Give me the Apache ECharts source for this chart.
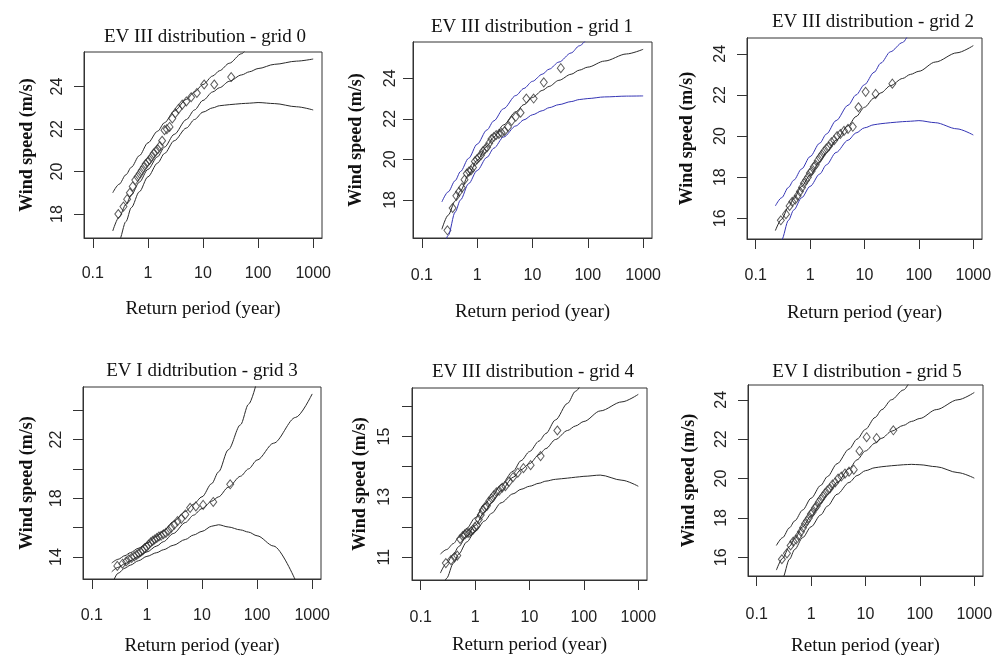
<!DOCTYPE html>
<html>
<head>
<meta charset="utf-8">
<script src="https://cdn.jsdelivr.net/npm/echarts@6/dist/echarts.min.js"></script>
<style>
  html, body { margin: 0; padding: 0; background: #fff; }
  #chart { width: 1002px; height: 657px; }
</style>
</head>
<body>
<div id="chart"></div>
<script>
// return period (year) of the 32 ranked annual maxima, same for every grid
var returnPeriods = [0.29, 0.36, 0.42, 0.47, 0.53, 0.59, 0.65, 0.71, 0.77, 0.84, 0.91, 0.99,
  1.07, 1.17, 1.27, 1.38, 1.51, 1.65, 1.81, 2.0, 2.21, 2.47, 2.77, 3.14, 3.6, 4.2, 4.98,
  6.09, 7.74, 10.49, 16.0, 32.5];
// return periods where the fitted curve and its bounds were read
var curveT = [0.23, 0.3, 0.4, 0.5, 0.7, 1, 1.5, 2, 3, 5, 7, 10, 15, 20, 30, 50, 70, 100, 200, 500, 1000];
var xTickValues = [0.1, 1, 10, 100, 1000];

// grid 0
var grid0Obs = [18.0, 18.35, 18.7, 19.0, 19.3, 19.6, 19.75, 19.9, 20.05, 20.2, 20.35, 20.45,
  20.55, 20.7, 20.85, 20.95, 21.05, 21.2, 21.45, 21.95, 22.0, 22.1, 22.5, 22.75, 22.95, 23.15,
  23.3, 23.5, 23.7, 24.1, 24.1, 24.45];
var grid0Fit = [17.2, 17.85, 18.45, 18.9, 19.5, 20.1, 20.7, 21.15, 21.75, 22.45, 22.9, 23.35,
  23.75, 23.95, 24.25, 24.55, 24.7, 24.85, 25.05, 25.2, 25.3];
var grid0Upper = [19.0, 19.4, 19.85, 20.2, 20.75, 21.35, 21.9, 22.3, 22.85, 23.4, 23.75, 24.1,
  24.5, 24.75, 25.1, 25.55, 25.9, 26.3, null, null, null];
var grid0Lower = [15.9, 16.75, 17.65, 18.3, 19.05, 19.75, 20.4, 20.85, 21.45, 22.05, 22.45, 22.8,
  23.0, 23.1, 23.15, 23.2, 23.22, 23.25, 23.2, 23.05, 22.9];

// grid 1
var grid1Obs = [16.5, 17.6, 18.2, 18.4, 18.6, 19.0, 19.3, 19.4, 19.45, 19.6, 19.9, 20.0,
  20.1, 20.2, 20.4, 20.5, 20.6, 20.8, 21.0, 21.1, 21.2, 21.25, 21.3, 21.4, 21.6, 21.9,
  22.1, 22.3, 23.0, 23.0, 23.8, 24.5];
var grid1Fit = [16.55, 17.25, 17.95, 18.45, 19.25, 19.95, 20.65, 21.1, 21.7, 22.35, 22.7, 23.05,
  23.4, 23.6, 23.9, 24.2, 24.4, 24.55, 24.85, 25.2, 25.43];
var grid1Upper = [17.9, 18.4, 18.95, 19.4, 20.05, 20.75, 21.45, 21.9, 22.5, 23.15, 23.5, 23.85,
  24.2, 24.45, 24.8, 25.25, 25.6, 26.0, null, null, null];
var grid1Lower = [15.2, 16.25, 17.4, 18.0, 18.8, 19.45, 20.1, 20.55, 21.1, 21.65, 21.95, 22.2,
  22.4, 22.55, 22.7, 22.85, 22.95, 23.0, 23.08, 23.12, 23.13];

// grid 2
var grid2Obs = [15.9, 16.2, 16.6, 16.8, 16.9, 17.1, 17.3, 17.5, 17.7, 17.85, 18.0, 18.2,
  18.3, 18.5, 18.6, 18.8, 18.95, 19.1, 19.25, 19.4, 19.5, 19.7, 19.8, 20.0, 20.1, 20.25,
  20.35, 20.45, 21.4, 22.15, 22.05, 22.55];
var grid2Fit = [15.4, 15.95, 16.55, 16.95, 17.55, 18.1, 18.75, 19.2, 19.8, 20.5, 20.95, 21.4,
  21.85, 22.1, 22.45, 22.8, 23.0, 23.15, 23.6, 24.05, 24.4];
var grid2Upper = [16.6, 17.0, 17.5, 17.85, 18.4, 19.0, 19.65, 20.1, 20.75, 21.5, 22.0, 22.5,
  23.1, 23.55, 24.1, 24.55, 25.0, 25.6, null, null, null];
var grid2Lower = [13.9, 14.95, 15.9, 16.4, 17.0, 17.55, 18.15, 18.6, 19.2, 19.8, 20.15, 20.4,
  20.55, 20.6, 20.65, 20.7, 20.72, 20.75, 20.65, 20.35, 20.05];

// grid 3
var grid3Obs = [13.4, 13.55, 13.7, 13.85, 13.95, 14.05, 14.15, 14.25, 14.35, 14.45, 14.6, 14.7,
  14.85, 15.0, 15.1, 15.2, 15.3, 15.4, 15.45, 15.55, 15.65, 15.8, 16.0, 16.2, 16.45, 16.6,
  16.9, 17.35, 17.45, 17.55, 17.75, 18.95];
var grid3Fit = [13.0, 13.3, 13.55, 13.75, 14.05, 14.35, 14.75, 15.05, 15.6, 16.35, 16.85, 17.3,
  17.8, 18.1, 18.75, 19.5, 20.0, 20.6, 21.75, 23.5, 25.1];
var grid3Upper = [13.6, 13.85, 14.1, 14.3, 14.6, 14.95, 15.4, 15.8, 16.4, 17.1, 17.6, 18.1,
  19.0, 19.8, 21.3, 23.0, 24.4, 26.0, null, null, null];
var grid3Lower = [12.1, 12.9, 13.25, 13.45, 13.75, 14.05, 14.3, 14.5, 14.8, 15.2, 15.5, 15.75,
  16.1, 16.2, 16.05, 15.85, 15.7, 15.45, 14.75, 12.4, null];

// grid 4
var grid4Obs = [10.8, 10.9, 11.0, 11.05, 11.6, 11.7, 11.75, 11.8, 11.8, 11.85, 11.9, 12.0,
  12.05, 12.25, 12.4, 12.55, 12.65, 12.7, 12.85, 12.95, 13.05, 13.15, 13.2, 13.3, 13.35, 13.5,
  13.65, 13.8, 13.95, 14.05, 14.35, 15.2];
var grid4Fit = [10.47, 10.8, 11.1, 11.35, 11.7, 12.05, 12.5, 12.8, 13.2, 13.65, 13.9, 14.1,
  14.4, 14.6, 14.9, 15.2, 15.35, 15.5, 15.85, 16.15, 16.4];
var grid4Upper = [11.1, 11.25, 11.45, 11.65, 11.95, 12.3, 12.75, 13.0, 13.4, 13.85, 14.2, 14.5,
  14.85, 15.1, 15.55, 16.1, 16.5, 16.9, null, null, null];
var grid4Lower = [9.6, 10.3, 10.8, 11.1, 11.5, 11.85, 12.2, 12.45, 12.8, 13.1, 13.25, 13.35,
  13.45, 13.52, 13.58, 13.62, 13.65, 13.68, 13.72, 13.55, 13.35];

// grid 5
var grid5Obs = [15.9, 16.2, 16.6, 16.8, 16.9, 17.1, 17.3, 17.5, 17.7, 17.85, 18.0, 18.2,
  18.3, 18.5, 18.6, 18.8, 18.95, 19.1, 19.25, 19.4, 19.5, 19.7, 19.8, 20.0, 20.1, 20.25,
  20.35, 20.45, 21.4, 22.1, 22.05, 22.45];
var grid5Fit = [15.35, 15.95, 16.55, 16.95, 17.55, 18.1, 18.75, 19.2, 19.8, 20.5, 20.95, 21.4,
  21.8, 22.05, 22.4, 22.7, 22.9, 23.05, 23.5, 24.0, 24.37];
var grid5Upper = [16.6, 17.0, 17.5, 17.85, 18.4, 19.0, 19.65, 20.1, 20.75, 21.5, 22.0, 22.5,
  23.1, 23.5, 24.0, 24.5, 24.95, 25.5, null, null, null];
var grid5Lower = [13.9, 14.95, 15.9, 16.4, 17.0, 17.55, 18.15, 18.6, 19.2, 19.8, 20.15, 20.4,
  20.55, 20.6, 20.65, 20.7, 20.72, 20.7, 20.6, 20.3, 20.02];

var BLACK = '#2a2a2a';
var BLUE = '#3434b4';

var panels = [
  { title: 'EV III distribution - grid 0', obs: grid0Obs, fit: grid0Fit, up: grid0Upper, low: grid0Lower, band: BLACK,
    yMin: 16.87, yMax: 25.63, yTicks: [18, 20, 22, 24], yLabels: [18, 20, 22, 24], xName: 'Return period (year)',
    box: [84, 52, 238, 186], head: [205, 37], xGap: 62, yGap: 48, xMargin: 28, yMargin: 18 },
  { title: 'EV III distribution - grid 1', obs: grid1Obs, fit: grid1Fit, up: grid1Upper, low: grid1Lower, band: BLUE,
    yMin: 16.12, yMax: 25.79, yTicks: [18, 20, 22, 24], yLabels: [18, 20, 22, 24], xName: 'Return period (year)',
    box: [413, 42, 239, 196], head: [532, 27], xGap: 65, yGap: 48, xMargin: 30, yMargin: 14 },
  { title: 'EV III distribution - grid 2', obs: grid2Obs, fit: grid2Fit, up: grid2Upper, low: grid2Lower, band: BLUE,
    yMin: 14.99, yMax: 24.77, yTicks: [16, 18, 20, 22, 24], yLabels: [16, 18, 20, 22, 24], xName: 'Return period (year)',
    box: [747, 38, 235, 201], head: [873, 22], xGap: 65, yGap: 51, xMargin: 29, yMargin: 18 },
  { title: 'EV I didtribution - grid 3', obs: grid3Obs, fit: grid3Fit, up: grid3Upper, low: grid3Lower, band: BLACK,
    yMin: 12.51, yMax: 25.57, yTicks: [14, 16, 18, 20, 22, 24], yLabels: [14, 18, 22], xName: 'Return period (year)',
    box: [83, 387, 238, 192], head: [202, 371], xGap: 58, yGap: 47, xMargin: 29, yMargin: 18 },
  { title: 'EV III distribution - grid 4', obs: grid4Obs, fit: grid4Fit, up: grid4Upper, low: grid4Lower, band: BLACK,
    yMin: 10.24, yMax: 16.61, yTicks: [11, 12, 13, 14, 15, 16], yLabels: [11, 13, 15], xName: 'Return period (year)',
    box: [412, 388, 235, 192], head: [533, 372], xGap: 56, yGap: 43, xMargin: 30, yMargin: 19 },
  { title: 'EV I distribution - grid 5', obs: grid5Obs, fit: grid5Fit, up: grid5Upper, low: grid5Lower, band: BLACK,
    yMin: 15.05, yMax: 24.75, yTicks: [16, 18, 20, 22, 24], yLabels: [16, 18, 20, 22, 24], xName: 'Retun period (year)',
    box: [748, 385, 235, 193], head: [867, 372], xGap: 61, yGap: 50, xMargin: 31, yMargin: 18 }
];

function logPairs(ts, vs) {
  var out = [];
  for (var i = 0; i < ts.length; i++) {
    out.push([Math.log10(ts[i]), vs[i]]);
  }
  return out;
}

var xLogTicks = xTickValues.map(function (t) { return Math.round(Math.log10(t)); });
var tickFont = { fontFamily: 'Liberation Sans', fontSize: 16, color: '#222' };
var axisEdge = { show: true, onZero: false, lineStyle: { color: '#333', width: 1 } };
var tickStyle = { color: '#333', width: 1 };

var option = {
  backgroundColor: '#fff',
  animation: false,
  title: [], grid: [], xAxis: [], yAxis: [], series: []
};

panels.forEach(function (p, k) {
  option.title.push({
    text: p.title, left: p.head[0], top: p.head[1] - 11, textAlign: 'center', padding: 0,
    textStyle: { fontFamily: 'Liberation Serif', fontWeight: 'normal', fontSize: 19, color: '#111', lineHeight: 22 }
  });
  option.grid.push({
    left: p.box[0], top: p.box[1], width: p.box[2], height: p.box[3],
    show: true, borderColor: '#333', borderWidth: 1, backgroundColor: 'transparent'
  });
  option.xAxis.push({
    gridIndex: k, type: 'value', min: -1.16, max: 3.16, position: 'bottom',
    name: p.xName, nameLocation: 'middle', nameGap: p.xGap,
    nameTextStyle: { fontFamily: 'Liberation Serif', fontSize: 19, color: '#111' },
    axisLine: axisEdge,
    axisTick: { show: true, length: 10, lineStyle: tickStyle, customValues: xLogTicks },
    axisLabel: Object.assign({
      margin: p.xMargin, customValues: xLogTicks,
      formatter: function (v) { return String(xTickValues[xLogTicks.indexOf(Math.round(v))]); }
    }, tickFont),
    splitLine: { show: false }
  });
  // y axis carrying the rotated labels and the name
  var yIdx = option.yAxis.length;
  option.yAxis.push({
    gridIndex: k, type: 'value', min: p.yMin, max: p.yMax, position: 'left',
    name: 'Wind speed (m/s)', nameLocation: 'middle', nameGap: p.yGap,
    nameTextStyle: { fontFamily: 'Liberation Serif', fontWeight: 'bold', fontSize: 18, color: '#111' },
    axisLine: axisEdge,
    axisTick: { show: false },
    axisLabel: Object.assign({ margin: p.yMargin, rotate: 90, customValues: p.yLabels }, tickFont),
    splitLine: { show: false }
  });
  // twin y axis on the same side that only draws the tick marks
  option.yAxis.push({
    gridIndex: k, type: 'value', min: p.yMin, max: p.yMax, position: 'left', offset: 0,
    axisLine: axisEdge,
    axisTick: { show: true, length: 10, lineStyle: tickStyle, customValues: p.yTicks },
    axisLabel: { show: false },
    splitLine: { show: false }
  });
  var lineBase = { type: 'line', xAxisIndex: k, yAxisIndex: yIdx, showSymbol: false, symbol: 'none', clip: true,
    silent: true, connectNulls: false, smooth: 0.3, smoothMonotone: 'x' };
  option.series.push(Object.assign({}, lineBase, {
    name: 'upper ' + k, data: logPairs(curveT, p.up), lineStyle: { color: p.band, width: 1 }
  }));
  option.series.push(Object.assign({}, lineBase, {
    name: 'fit ' + k, data: logPairs(curveT, p.fit), lineStyle: { color: BLACK, width: 1 }
  }));
  option.series.push(Object.assign({}, lineBase, {
    name: 'lower ' + k, data: logPairs(curveT, p.low), lineStyle: { color: p.band, width: 1 }
  }));
  option.series.push({
    type: 'scatter', name: 'obs ' + k, xAxisIndex: k, yAxisIndex: yIdx, clip: true,
    symbol: 'diamond', symbolSize: [7, 9],
    itemStyle: { color: 'rgba(255,255,255,0)', borderColor: '#333', borderWidth: 1 },
    data: logPairs(returnPeriods, p.obs)
  });
});

var chart = echarts.init(document.getElementById('chart'));
chart.setOption(option);
</script>
</body>
</html>
